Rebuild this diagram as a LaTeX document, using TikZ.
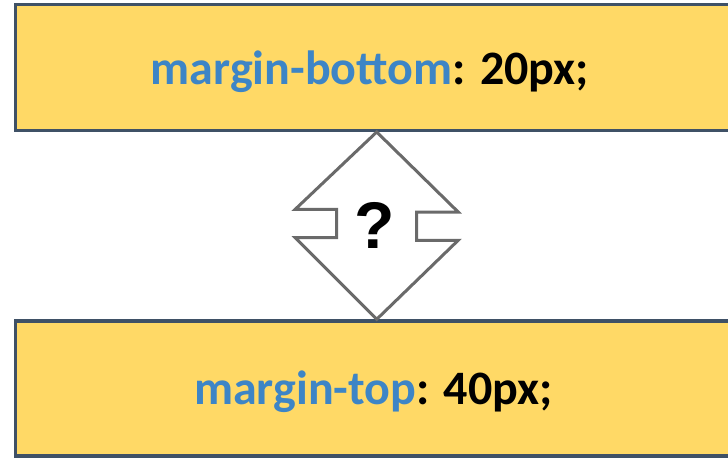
\documentclass[tikz,border=0pt]{standalone}
\usepackage{fontspec}
\setmainfont{Carlito}
\newfontfamily\askfont{Liberation Sans}
\definecolor{boxfill}{HTML}{FFD966}
\definecolor{boxline}{HTML}{3F5166}
\definecolor{propblue}{HTML}{3D85C6}
\definecolor{arrowgray}{HTML}{6A6A6A}
\begin{document}
\begin{tikzpicture}[x=1pt,y=1pt,
  box/.style={rectangle,draw=boxline,fill=boxfill,line width=3.2pt,inner sep=0pt,anchor=south west},
  rule/.style={font=\bfseries\fontsize{48}{52}\selectfont}]
\useasboundingbox (0,0) rectangle (728,459);
\node[box,minimum width=740,minimum height=126] (topbox) at (13.5,327) {};
\node[box,minimum width=740,minimum height=135] (botbox) at (13.5,1.5) {};
\node[rule] (toptext) at (370,387) {\textcolor{propblue}{margin-bottom}: 20px;};
\node[rule] (bottext) at (373.5,67) {\textcolor{propblue}{margin-top}: 40px;};
% double arrow between the boxes
\coordinate (mid) at (376.7,233);
\draw[arrowgray,fill=white,line width=3pt,line join=miter]
  (mid |- topbox.south) -- ++(81.5,-80) -- ++(-41.5,0) -- ++(0,-28.3)
  -- ++(41.5,0) -- (mid |- botbox.north) -- ++(-81.5,81.7) -- ++(41.5,0)
  -- ++(0,28.3) -- ++(-41.5,0) -- cycle;
\node[font=\askfont\bfseries\fontsize{66}{66}\selectfont] (ask) at (375,234) {?};
\end{tikzpicture}
\end{document}
